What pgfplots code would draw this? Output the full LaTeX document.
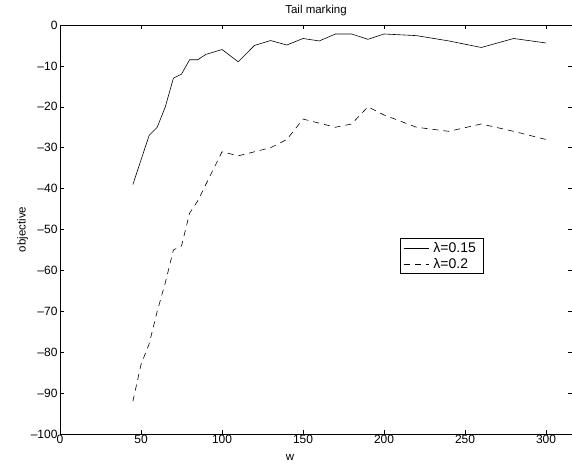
\documentclass[border=0pt]{standalone}
\usepackage{pgfplots}
\pgfplotsset{compat=1.18}
\usepackage{fontspec}
\setmainfont{Liberation Sans}
\begin{document}
\begin{tikzpicture}[x=1pt,y=1pt]
\begin{axis}[
  name=ax,
  at={(60pt,34pt)},
  scale only axis,
  width=512pt, height=409pt,
  xmin=0, xmax=316, ymin=-100, ymax=0,
  xtick={0,50,...,300}, ytick={-100,-90,...,0},
  yticklabels={–100,–90,–80,–70,–60,–50,–40,–30,–20,–10,0},
  tick align=inside,
  major tick length=4pt,
  axis line style={line width=0.8pt},
  tick style={line width=0.5pt, black},
  /pgf/number format/assume math mode=true,
  ticklabel style={font=\fontsize{12}{14}\selectfont},
  xticklabel style={yshift=2pt},
  yticklabel style={xshift=1pt},
  xlabel={w}, ylabel={objective},
  label style={font=\fontsize{11.5}{13}\selectfont},
  xlabel style={xshift=-26pt, yshift=-4pt},
  ylabel style={yshift=-4pt},
  title={Tail marking},
  title style={font=\fontsize{11.5}{13}\selectfont, yshift=0pt},
  legend style={at={(axis description cs:0.664,0.479)}, anchor=north west,
    font=\fontsize{14}{16}\selectfont, draw=black, line width=0.5pt,
    inner xsep=3pt, inner ysep=2pt, row sep=0pt,
    nodes={inner xsep=4pt}},
  legend cell align=left,
  legend image code/.code={\draw[#1] (0cm,0cm) -- (0.9cm,0cm);},
]
\addplot[black, line width=0.6pt] coordinates {
(45,-39) (50,-33) (55,-27) (60,-25) (65,-20) (70,-13) (75,-12) (80,-8.5) (85,-8.5)
(90,-7.2) (100,-6) (110,-9) (120,-5) (130,-3.8) (140,-4.9) (150,-3.3) (160,-3.9)
(170,-2.2) (180,-2.2) (190,-3.5) (200,-2.2) (220,-2.6) (240,-3.9) (260,-5.5)
(280,-3.3) (300,-4.4)};
\addlegendentry{λ=0.15}
\addplot[black, line width=0.6pt, dash pattern=on 6pt off 5pt] coordinates {
(45,-92) (50,-83) (55,-78) (60,-70) (65,-63) (70,-55) (75,-54) (80,-46) (85,-43)
(90,-39) (95,-35) (100,-31) (110,-32) (120,-31) (130,-30) (140,-28) (150,-23)
(160,-24) (170,-25) (180,-24.2) (190,-20) (200,-22) (220,-25) (240,-26)
(260,-24.2) (280,-26) (300,-28)};
\addlegendentry{λ=0.2}
\end{axis}
\pgfresetboundingbox
\path[use as bounding box] (0,0) rectangle (572,468);
\end{tikzpicture}
\end{document}
